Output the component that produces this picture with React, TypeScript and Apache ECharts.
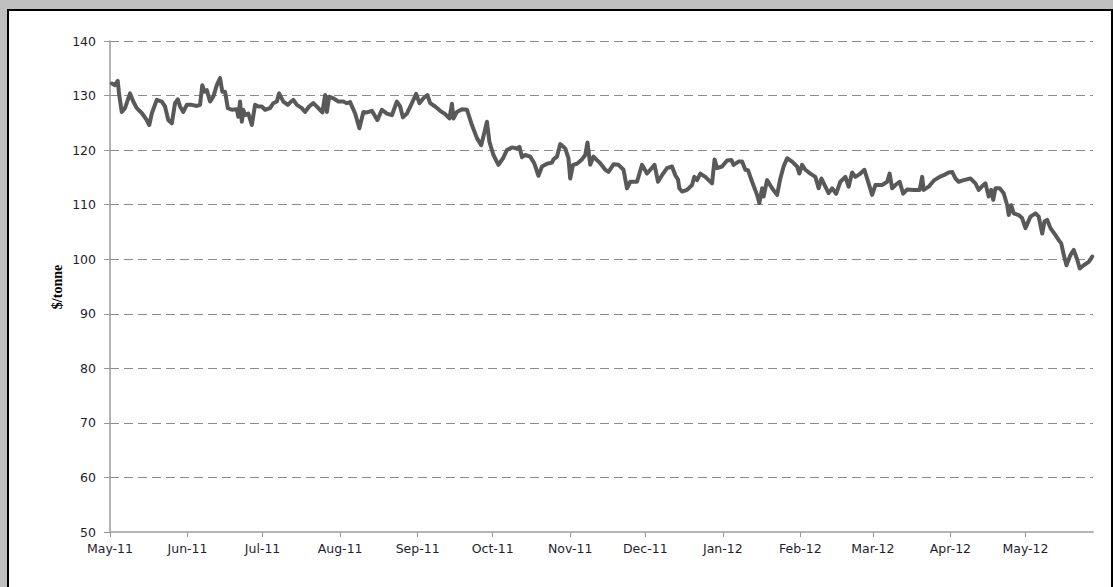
import React, { useEffect, useRef } from "react";
import * as echarts from "echarts";

// Day offsets (from 1 May 2011) of the month ticks and their labels
const monthDays = [0, 31, 61, 92, 123, 153, 184, 214, 245, 276, 305, 336, 366];
const monthLabels = ["May-11", "Jun-11", "Jul-11", "Aug-11", "Sep-11", "Oct-11", "Nov-11", "Dec-11", "Jan-12", "Feb-12", "Mar-12", "Apr-12", "May-12"];
const yTicks = [50, 60, 70, 80, 90, 100, 110, 120, 130, 140];
const yAxisTitle = "$/tonne";

// [day offset from 1 May 2011, price $/tonne]
const pricePoints: [number, number][] = [
  [0.8,132.2],[2,131.9],[3.1,132.7],[3.6,130.4],[4.7,127.0],[6,127.7],[8,130.4],[9.3,128.9],[10.7,127.7],[12.7,126.8],[14.7,125.5],[15.7,124.6],[16.7,126.7],[18.7,129.2],[20.7,128.9],[22,128.0],[23.3,125.5],[24.7,124.9],[26,128.6],[27.1,129.3],[28,128.0],[29.3,127.0],[30.7,128.3],[32.7,128.3],[34.7,128.1],[36,128.3],[36.9,131.9],[37.7,130.7],[38.7,131.0],[40,128.9],[41.3,129.8],[42.7,131.9],[44,133.2],[44.9,130.7],[46,130.7],[47.1,127.7],[48.7,127.4],[50.7,127.5],[51.3,126.1],[52,128.9],[52.7,125.2],[53.3,127.4],[54,126.4],[55.3,126.7],[56.7,124.6],[58,128.3],[59.3,128.0],[60.7,128.0],[62,127.4],[64,127.7],[65.3,128.6],[66.7,128.9],[67.6,130.4],[69.3,128.9],[71.1,128.3],[72.4,128.9],[73.3,129.2],[74.7,128.3],[76.7,127.7],[78,127.0],[79.6,128.0],[81.3,128.6],[83.3,127.7],[84.9,126.9],[86,130.1],[86.7,127.0],[87.6,129.8],[89.3,129.5],[91.3,128.9],[93.3,128.9],[94.7,128.6],[96,128.8],[98,126.7],[99.7,124.0],[101.3,127.0],[102.7,126.9],[104.7,127.2],[106.9,125.5],[108.7,127.4],[110.7,126.7],[112.7,126.4],[114.7,128.9],[116,128.0],[117.1,126.0],[118.7,126.7],[120.7,128.6],[122.4,130.3],[123.7,128.6],[125.3,129.5],[126.9,130.1],[128,128.6],[130,128.0],[132,127.2],[134,126.6],[135.7,125.8],[136.7,128.5],[137.3,125.8],[138.7,127.0],[140.7,127.5],[142.7,127.4],[144.7,124.6],[146.7,122.2],[148.4,120.9],[149.6,123.1],[150.7,125.2],[151.7,121.5],[153.3,119.1],[155.3,117.3],[157.1,118.5],[158.7,120.0],[160.7,120.5],[162.7,120.3],[163.7,120.6],[164.7,118.7],[166,119.1],[168,118.8],[169.6,117.6],[171.3,115.3],[172.7,117.0],[174.7,117.5],[176.7,117.7],[177.3,118.3],[178.7,118.8],[180,121.1],[182,120.3],[183.3,118.5],[184,114.8],[185.1,117.3],[186.7,117.5],[188.7,118.3],[190,119.1],[190.9,121.4],[192,117.3],[193.3,118.8],[195.3,117.9],[196,117.6],[198,116.4],[199.3,116.0],[201.3,117.4],[203.3,117.3],[205.3,116.4],[206.7,113.0],[208,114.2],[210.7,114.2],[212.7,117.3],[214.7,115.7],[216,116.4],[217.7,117.3],[219.1,114.2],[220.7,115.4],[222.7,116.7],[224.7,117.0],[226,115.4],[227.1,114.6],[227.6,113.0],[228.7,112.4],[230.7,112.7],[232.7,113.6],[233.6,115.1],[234.7,114.5],[236,115.7],[238,115.1],[240.7,113.9],[241.7,118.3],[242.7,116.7],[244.7,117.0],[246.7,118.1],[248.4,118.2],[249.3,117.3],[251.3,117.9],[252.7,117.9],[254,116.4],[255.1,116.3],[256.7,114.2],[258.7,111.8],[259.6,110.3],[260.7,113.0],[261.3,111.5],[262.7,114.5],[264.7,113.0],[266.7,111.8],[268,114.8],[269.3,117.0],[270.7,118.5],[272.7,117.9],[274.7,117.0],[275.6,115.7],[276.7,117.3],[278,116.4],[280,115.7],[282,115.1],[283.3,113.0],[284.4,114.8],[286,113.3],[287.3,112.1],[288.7,113.0],[290.3,112.0],[292,114.2],[294,115.1],[295.3,113.3],[296.7,115.9],[298,115.1],[300,115.7],[301.6,116.4],[302.9,114.5],[304.7,111.8],[306,113.6],[308.7,113.6],[310.7,114.2],[311.7,115.7],[312.7,113.0],[314,113.6],[315.7,114.2],[317.1,112.0],[318.7,112.8],[321.3,112.7],[323.7,112.7],[324.7,115.1],[325.3,112.7],[327.3,113.3],[329.3,114.4],[331.7,115.1],[333.3,115.4],[335.3,115.9],[336.7,116.0],[338,114.8],[339.3,114.2],[341.3,114.5],[344,114.8],[346,113.9],[347.3,112.7],[348.7,113.4],[350,113.9],[351.3,111.5],[352.3,112.7],[353.1,110.9],[354,113.0],[355.7,113.0],[357.3,112.1],[358.7,109.9],[359.3,108.1],[360.3,109.9],[361.3,108.4],[363.3,108.1],[364.7,107.5],[366,105.7],[368,107.8],[370,108.4],[371.3,107.8],[372.7,104.7],[373.6,106.9],[374.7,107.2],[376,105.7],[378,104.4],[379.3,103.5],[380.3,102.9],[381.3,100.8],[382.4,98.9],[384,100.8],[385.3,101.7],[386.7,99.9],[387.7,98.3],[389.3,98.9],[391.3,99.5],[392.7,100.5]
];

const X_MAX = 393;

export default function App() {
  const ref = useRef<HTMLDivElement>(null);

  useEffect(() => {
    if (!ref.current) return;
    const chart = echarts.init(ref.current, null, { renderer: "svg" });
    const labelFont = { fontFamily: "DejaVu Sans", fontSize: 12.5, color: "#1e1e2e" };
    chart.setOption({
      animation: false,
      grid: { left: 110, right: 20, top: 41, bottom: 55, containLabel: false },
      xAxis: {
        type: "value",
        min: 0,
        max: X_MAX,
        axisLine: { show: true, lineStyle: { color: "#b5b5b5", width: 2 } },
        axisTick: { show: true, customValues: monthDays, length: 5, lineStyle: { color: "#999", width: 1 } },
        axisLabel: {
          customValues: monthDays,
          margin: 10,
          ...labelFont,
          formatter: (v: number) => {
            const i = monthDays.indexOf(Math.round(v));
            return i >= 0 ? monthLabels[i] : "";
          },
        },
        splitLine: { show: false },
      },
      yAxis: {
        type: "value",
        min: yTicks[0],
        max: yTicks[yTicks.length - 1],
        interval: 10,
        axisLine: { show: true, lineStyle: { color: "#999", width: 1.5 } },
        axisTick: { show: true, inside: false, length: 6, lineStyle: { color: "#999" } },
        axisLabel: { margin: 14, ...labelFont },
        splitLine: { show: true, lineStyle: { color: "#8c8c8c", type: [9, 5], width: 1 } },
      },
      graphic: [
        {
          type: "text",
          x: 57,
          y: 287,
          rotation: Math.PI / 2,
          style: {
            text: yAxisTitle,
            fontFamily: "Liberation Serif",
            fontWeight: "bold",
            fontSize: 14,
            fill: "#000",
            textAlign: "center",
            textVerticalAlign: "middle",
          },
        },
      ],
      series: [
        {
          type: "line",
          data: pricePoints,
          showSymbol: false,
          symbol: "none",
          lineStyle: { color: "#595959", width: 4, join: "round", cap: "round" },
        },
      ],
    });
    return () => chart.dispose();
  }, []);

  return (
    <div style={{ position: "fixed", left: 0, top: 0, width: 1113, height: 587, background: "#c0c0c0", overflow: "hidden" }}>
      <div
        style={{
          position: "absolute",
          left: 7,
          top: 9,
          width: 1106,
          height: 600,
          boxSizing: "border-box",
          border: "2px solid #000",
          background: "#fff",
        }}
      />
      <div ref={ref} style={{ position: "absolute", left: 0, top: 0, width: 1113, height: 587 }} />
    </div>
  );
}
